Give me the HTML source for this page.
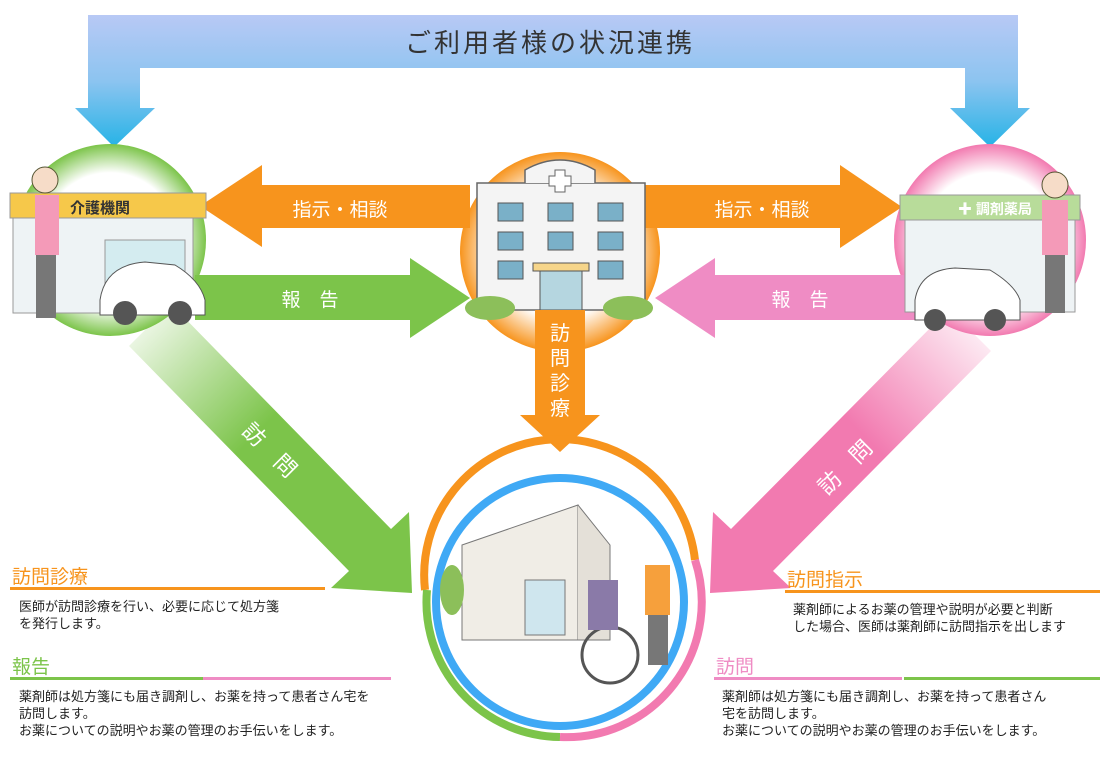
<!DOCTYPE html>
<html><head><meta charset="utf-8"><style>
body{margin:0;width:1100px;height:757px;overflow:hidden;background:#fff;font-family:"Liberation Sans","Noto Sans CJK JP",sans-serif}
.t{position:absolute;font-size:13px;line-height:17px;color:#222}
.h{position:absolute;font-size:19px}
</style></head><body>
<svg width="1100" height="757" style="position:absolute;left:0;top:0" font-family="Liberation Sans, Noto Sans CJK JP, sans-serif">
<defs>
<linearGradient id="bl" x1="0" y1="0" x2="0" y2="1"><stop offset="0" stop-color="#b8c9f5"/><stop offset="0.5" stop-color="#8cc4f0"/><stop offset="1" stop-color="#26b3e6"/></linearGradient>
<radialGradient id="gc"><stop offset="0.7" stop-color="#fff"/><stop offset="1" stop-color="#7cc44a"/></radialGradient>
<radialGradient id="pc"><stop offset="0.7" stop-color="#fff"/><stop offset="1" stop-color="#f27ab0"/></radialGradient>
<radialGradient id="oc"><stop offset="0.65" stop-color="#fff"/><stop offset="1" stop-color="#f7941d"/></radialGradient>
<linearGradient id="gd" x1="0" y1="0" x2="1" y2="1"><stop offset="0" stop-color="#fff"/><stop offset="0.45" stop-color="#7cc44a"/></linearGradient>
<linearGradient id="pd" x1="1" y1="0" x2="0" y2="1"><stop offset="0" stop-color="#fff"/><stop offset="0.45" stop-color="#f27ab0"/></linearGradient>
</defs>
<path d="M88 15H1018V108H1030L990 147L950 108H965V68H140V108H155L114 147L75 108H88Z" fill="url(#bl)"/>
<text x="550" y="52" font-size="26" fill="#333" text-anchor="middle" letter-spacing="3">ご利用者様の状況連携</text>
<!-- diagonals -->
<path d="M171 304L129 346L349 571L331 588L412 593L409 512L391 529Z" fill="url(#gd)"/>
<path d="M949 309L991 351L773 571L791 588L710 593L713 512L731 529Z" fill="url(#pd)"/>
<text x="270" y="458" font-size="22" fill="#fff" text-anchor="middle" transform="rotate(45 270 450)">訪　問</text>
<text x="845" y="475" font-size="22" fill="#fff" text-anchor="middle" transform="rotate(-45 845 467)">訪　問</text>
<circle cx="110" cy="240" r="96" fill="url(#gc)"/>
<circle cx="990" cy="240" r="96" fill="url(#pc)"/>
<circle cx="560" cy="252" r="100" fill="url(#oc)"/>
<path d="M470 185H262V165L200 206L262 247V228H470Z" fill="#f7941d"/>
<path d="M640 185H840V165L902 207L840 248V228H640Z" fill="#f7941d"/>
<path d="M195 275H410V258L470 298L410 338V320H195Z" fill="#7cc44a"/>
<path d="M960 275H715V258L655 298L715 338V320H960Z" fill="#ef8cc4"/>
<text x="340" y="216" font-size="19" fill="#fff" text-anchor="middle">指示・相談</text>
<text x="762" y="216" font-size="19" fill="#fff" text-anchor="middle">指示・相談</text>
<text x="310" y="306" font-size="19" fill="#fff" text-anchor="middle">報　告</text>
<text x="800" y="306" font-size="19" fill="#fff" text-anchor="middle">報　告</text>
<rect x="477" y="183" width="168" height="127" fill="#f4f4f4" stroke="#666" stroke-width="1.5"/>
<path d="M525 183V170Q560 150 595 170V183" fill="#f4f4f4" stroke="#666" stroke-width="1.5"/>
<path d="M555 170h10v6h6v10h-6v6h-10v-6h-6v-10h6z" fill="#fff" stroke="#666"/>
<g fill="#7ab0c8" stroke="#555">
<rect x="498" y="203" width="25" height="18"/><rect x="548" y="203" width="25" height="18"/><rect x="598" y="203" width="25" height="18"/>
<rect x="498" y="232" width="25" height="18"/><rect x="548" y="232" width="25" height="18"/><rect x="598" y="232" width="25" height="18"/>
<rect x="498" y="261" width="25" height="18"/><rect x="598" y="261" width="25" height="18"/>
<rect x="540" y="270" width="42" height="40" fill="#b5d6e0"/></g>
<rect x="533" y="263" width="56" height="8" fill="#f6d58a" stroke="#555"/>
<ellipse cx="490" cy="308" rx="25" ry="12" fill="#8cbf5a"/><ellipse cx="628" cy="308" rx="25" ry="12" fill="#8cbf5a"/>
<path d="M535 310H585V415H600L560 452L520 415H535Z" fill="#f7941d"/>
<text font-size="20" fill="#fff" text-anchor="middle"><tspan x="560" y="340">訪</tspan><tspan x="560" y="365">問</tspan><tspan x="560" y="390">診</tspan><tspan x="560" y="415">療</tspan></text>
<rect x="13" y="213" width="180" height="100" fill="#eef3f5" stroke="#999"/>
<rect x="10" y="193" width="196" height="25" fill="#f6c84a" stroke="#999"/>
<text x="70" y="213" font-size="15" fill="#333" font-weight="bold">介護機関</text>
<rect x="105" y="240" width="80" height="70" fill="#d4ecf0" stroke="#999"/>
<path d="M100 300Q105 265 145 262L175 265Q200 280 205 300V315H100Z" fill="#fff" stroke="#555"/>
<circle cx="125" cy="313" r="12" fill="#555"/><circle cx="180" cy="313" r="12" fill="#555"/>
<circle cx="45" cy="180" r="13" fill="#f6dcc8" stroke="#553"/>
<rect x="35" y="195" width="24" height="60" fill="#f49ab8"/>
<rect x="36" y="255" width="20" height="63" fill="#777"/>
<rect x="905" y="212" width="170" height="100" fill="#eef3f5" stroke="#999"/>
<rect x="900" y="195" width="180" height="25" fill="#b8dc9a" stroke="#999"/>
<text x="958" y="214" font-size="14" fill="#fff" font-weight="bold">✚ 調剤薬局</text>
<path d="M915 300Q920 270 955 268L990 270Q1015 285 1020 300V320H915Z" fill="#fff" stroke="#555"/>
<circle cx="935" cy="320" r="11" fill="#555"/><circle cx="995" cy="320" r="11" fill="#555"/>
<circle cx="1055" cy="185" r="13" fill="#f6dcc8" stroke="#553"/>
<rect x="1042" y="200" width="26" height="55" fill="#f49ab8"/>
<rect x="1045" y="255" width="20" height="58" fill="#777"/>
<path d="M425 590A135 135 0 0 1 695 560" fill="none" stroke="#f7941d" stroke-width="8"/>
<path d="M427 590A135 135 0 0 0 560 737" fill="none" stroke="#7cc44a" stroke-width="8"/>
<path d="M560 737A135 135 0 0 0 695 560" fill="none" stroke="#f27ab0" stroke-width="8"/>
<circle cx="560" cy="602" r="124" fill="#fff" stroke="#3fa9f5" stroke-width="8"/>
<path d="M462 545L578 505V640H462Z" fill="#f0ede6" stroke="#777"/>
<path d="M578 505L610 545V640H578" fill="#e4e0d8" stroke="#777"/>
<rect x="525" y="580" width="40" height="55" fill="#cfe6ee" stroke="#777"/>
<ellipse cx="452" cy="590" rx="12" ry="25" fill="#8cbf5a"/>
<circle cx="610" cy="655" r="28" fill="none" stroke="#555" stroke-width="3"/>
<rect x="588" y="580" width="30" height="50" fill="#8a7aa8"/>
<rect x="645" y="565" width="25" height="50" fill="#f6a03c"/>
<rect x="648" y="615" width="20" height="50" fill="#777"/>
<rect x="10" y="587" width="315" height="3" fill="#f7941d"/>
<rect x="10" y="677" width="193" height="3" fill="#7cc44a"/><rect x="203" y="677" width="188" height="3" fill="#ef8cc4"/>
<rect x="785" y="590" width="315" height="3" fill="#f7941d"/>
<rect x="714" y="677" width="188" height="3" fill="#ef8cc4"/><rect x="904" y="677" width="196" height="3" fill="#7cc44a"/>
</svg>
<div class="h" style="left:12px;top:562px;color:#f7941d">訪問診療</div>
<div class="t" style="left:19px;top:598px">医師が訪問診療を行い、必要に応じて処方箋<br>を発行します。</div>
<div class="h" style="left:12px;top:652px;color:#7cc44a">報告</div>
<div class="t" style="left:19px;top:688px">薬剤師は処方箋にも届き調剤し、お薬を持って患者さん宅を<br>訪問します。<br>お薬についての説明やお薬の管理のお手伝いをします。</div>
<div class="h" style="left:787px;top:565px;color:#f7941d">訪問指示</div>
<div class="t" style="left:793px;top:601px">薬剤師によるお薬の管理や説明が必要と判断<br>した場合、医師は薬剤師に訪問指示を出します</div>
<div class="h" style="left:716px;top:652px;color:#ef8cc4">訪問</div>
<div class="t" style="left:722px;top:688px">薬剤師は処方箋にも届き調剤し、お薬を持って患者さん<br>宅を訪問します。<br>お薬についての説明やお薬の管理のお手伝いをします。</div>
</body></html>
